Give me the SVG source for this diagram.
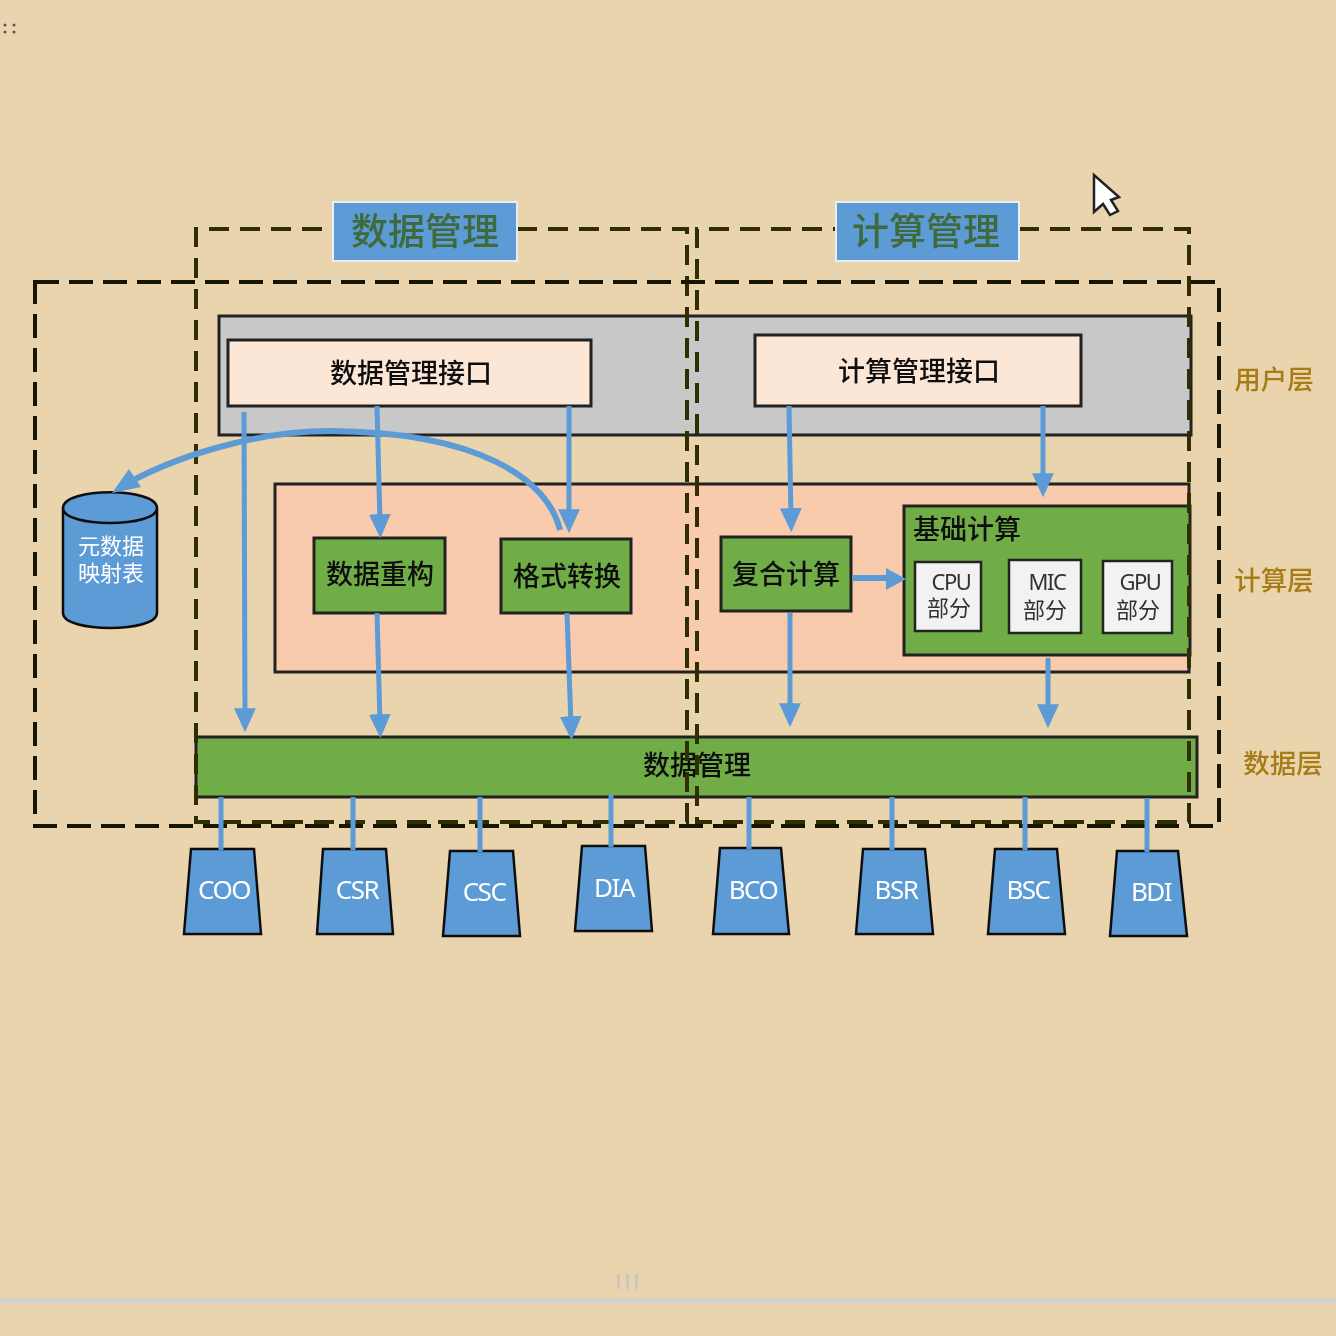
<svg xmlns="http://www.w3.org/2000/svg" width="1336" height="1336" viewBox="0 0 1336 1336">
<style>
text{font-family:"Noto Sans CJK SC","Noto Sans",sans-serif;text-anchor:middle;fill:#111}
.box{stroke:#222;stroke-width:3}
.green{fill:#70ad47}
.light{fill:#fce6d6}
.white{fill:#f2f2f2;stroke:#222;stroke-width:2.5}
.blue{fill:#5b9bd5;stroke:#111;stroke-width:2.5}
.title{fill:#5b9bd5;stroke:#e8eef2;stroke-width:2}
.tt{font-size:37px;fill:#3f6b3a;font-weight:500}
.lay{font-size:26.5px;fill:#a67c14;font-weight:500}
.n{font-size:27px;font-weight:500}
.s{font-size:22px;fill:#333}
.lat{font-family:"Noto Sans",sans-serif;letter-spacing:-1.5px}
.w{font-size:26px;fill:#fff;font-family:"Noto Sans",sans-serif;letter-spacing:-1.5px}
.dash{fill:none;stroke:#2e2e00;stroke-width:4;stroke-dasharray:20 11}
.outer{fill:none;stroke:#151505;stroke-width:4;stroke-dasharray:24 10}
.c{fill:none;stroke:#5b9bd5;stroke-width:5}
</style>
<defs>
<marker id="a" markerUnits="userSpaceOnUse" markerWidth="24" markerHeight="22" refX="8" refY="10" orient="auto" viewBox="0 0 22 20"><path d="M0 0L22 10L0 20Z" fill="#5b9bd5"/></marker>
<filter id="soft" x="-2%" y="-2%" width="104%" height="104%"><feGaussianBlur stdDeviation="0.6"/></filter>
</defs>
<rect width="1336" height="1336" fill="#ead4ae"/>
<g filter="url(#soft)">
<g id="chrome" fill="#555">
<circle cx="5" cy="25" r="1.5"/><circle cx="14" cy="25" r="1.5"/><circle cx="5" cy="32" r="1.5"/><circle cx="14" cy="32" r="1.5"/>
<rect x="617" y="1274" width="3" height="15" fill="#c8c8c0"/><rect x="626" y="1274" width="3" height="15" fill="#c8c8c0"/><rect x="635" y="1274" width="3" height="15" fill="#c8c8c0"/>
<rect x="0" y="1298" width="1336" height="5" fill="#d4d2cc"/>
</g>
<g id="layer-user"><rect class="box" x="219" y="316" width="972" height="119" fill="#c8c8c8"/></g>
<g id="layer-compute"><rect class="box" x="275" y="484" width="914" height="188" fill="#f8cbad"/></g>
<g id="if-data"><rect class="box light" x="228" y="340" width="363" height="66"/><text class="n" x="411" y="383">数据管理接口</text></g>
<g id="if-compute"><rect class="box light" x="755" y="335" width="326" height="71"/><text class="n" x="919" y="381">计算管理接口</text></g>
<g id="meta">
<path class="blue" d="M63 508V613C63 633 157 633 157 613V508C157 487 63 487 63 508C63 528 157 528 157 508"/>
<text class="s" x="111" y="554" style="fill:#fff">元数据</text><text class="s" x="111" y="581" style="fill:#fff">映射表</text>
</g>
<g id="restruct"><rect class="box green" x="314" y="538" width="131" height="75"/><text class="n" x="380" y="584">数据重构</text></g>
<g id="convert"><rect class="box green" x="501" y="539" width="130" height="74"/><text class="n" x="567" y="586">格式转换</text></g>
<g id="composite"><rect class="box green" x="721" y="537" width="130" height="74"/><text class="n" x="786" y="584">复合计算</text></g>
<g id="basic"><rect class="box green" x="904" y="506" width="286" height="149"/><text class="n" x="967" y="539">基础计算</text></g>
<g id="cpu"><rect class="white" x="915" y="562" width="66" height="69"/><text class="s lat" x="951" y="590">CPU</text><text class="s" x="949" y="616">部分</text></g>
<g id="mic"><rect class="white" x="1009" y="560" width="72" height="73"/><text class="s lat" x="1047" y="590">MIC</text><text class="s" x="1045" y="618">部分</text></g>
<g id="gpu"><rect class="white" x="1103" y="561" width="69" height="72"/><text class="s lat" x="1140" y="590">GPU</text><text class="s" x="1138" y="618">部分</text></g>
<g id="data-bar"><rect class="box green" x="196" y="737" width="1001" height="60"/><text class="n" x="697" y="775">数据管理</text></g>
<g id="frames">
<path class="dash" d="M517 229H687V822H196V229H333"/>
<path class="dash" d="M1019 229H1189V822H697V229H836"/>
<path class="outer" d="M35 282H1219V826H35Z"/>
</g>
<g id="t-data"><rect class="title" x="333" y="202" width="184" height="59"/><text class="tt" x="425" y="245">数据管理</text></g>
<g id="t-comp"><rect class="title" x="836" y="202" width="183" height="59"/><text class="tt" x="926" y="245">计算管理</text></g>
<g id="lbl1"><text class="lay" x="1274" y="389">用户层</text></g>
<g id="lbl2"><text class="lay" x="1274" y="590">计算层</text></g>
<g id="lbl3"><text class="lay" x="1283" y="773">数据层</text></g>
<g id="s-coo"><path class="blue" d="M191 849H254L261 934H184Z"/><text class="w" x="224" y="899">COO</text></g>
<g id="s-csr"><path class="blue" d="M323 849H386L393 934H317Z"/><text class="w" x="357" y="899">CSR</text></g>
<g id="s-csc"><path class="blue" d="M450 851H513L520 936H443Z"/><text class="w" x="484" y="901">CSC</text></g>
<g id="s-dia"><path class="blue" d="M582 846H645L652 931H575Z"/><text class="w" x="614" y="897">DIA</text></g>
<g id="s-bco"><path class="blue" d="M720 848H781L789 934H713Z"/><text class="w" x="753" y="899">BCO</text></g>
<g id="s-bsr"><path class="blue" d="M863 849H925L933 934H856Z"/><text class="w" x="896" y="899">BSR</text></g>
<g id="s-bsc"><path class="blue" d="M995 849H1057L1065 934H988Z"/><text class="w" x="1028" y="899">BSC</text></g>
<g id="s-bdi"><path class="blue" d="M1117 851H1178L1187 936H1110Z"/><text class="w" x="1151" y="901">BDI</text></g>
<g id="connectors">
<path class="c" marker-end="url(#a)" d="M244 412L245 717"/>
<path class="c" marker-end="url(#a)" d="M377 406L380 523"/>
<path class="c" marker-end="url(#a)" d="M569 406V518"/>
<path class="c" marker-end="url(#a)" d="M789 406L791 517"/>
<path class="c" marker-end="url(#a)" d="M1043 406V482"/>
<path class="c" marker-end="url(#a)" d="M377 613L380 723"/>
<path class="c" marker-end="url(#a)" d="M567 613L571 725"/>
<path class="c" marker-end="url(#a)" d="M790 613V712"/>
<path class="c" marker-end="url(#a)" d="M1048 658V713"/>
<path class="c" style="stroke-width:6" d="M852 578H888"/>
<path d="M906 579L886 568V590Z" fill="#5b9bd5"/>
<path class="c" style="stroke-width:6" d="M560 530C548 480 480 432 330 431C250 431 170 460 130 482"/>
<path d="M112 493L129 469L141 487Z" fill="#5b9bd5"/>
<path class="c" d="M221 797V850M353 797V850M480 797V852M611 794V847M749 797V849M892 797V850M1025 797V850M1147 798V852"/>
</g>
<g id="cursor"><path d="M1094 175V212L1103 204L1110 215L1118 211L1111 200L1119 197Z" fill="#fff" stroke="#222" stroke-width="2.5"/></g>
</g>
</svg>
